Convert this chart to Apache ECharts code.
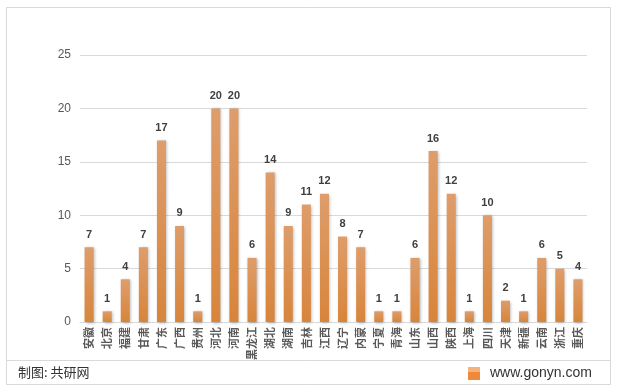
<!DOCTYPE html>
<html><head><meta charset="utf-8">
<script src="https://cdn.jsdelivr.net/npm/echarts@6/dist/echarts.min.js"></script>
<style>html,body{margin:0;padding:0;background:#fff}#c{width:618px;height:391px}</style>
</head><body><div id="c"></div>
<script>
const categories = ['安徽','北京','福建','甘肃','广东','广西','贵州','河北','河南','黑龙江','湖北','湖南','吉林','江西','辽宁','内蒙','宁夏','青海','山东','山西','陕西','上海','四川','天津','新疆','云南','浙江','重庆'];
const values = [7,1,4,7,17,9,1,20,20,6,14,9,11,12,8,7,1,1,6,16,12,1,10,2,1,6,5,4];
const yTicks = [0,5,10,15,20,25];

const chart = echarts.init(document.getElementById('c'), null, {renderer:'canvas'});
const font = '"Noto Sans CJK SC", "Microsoft YaHei", sans-serif';
chart.setOption({
  animation:false,
  textStyle:{fontFamily:font},
  grid:{left:80, right:31, top:55, bottom:69},
  xAxis:{type:'category', data:categories,
    axisLine:{lineStyle:{color:'#d9d9d9'}}, axisTick:{show:false},
    axisLabel:{rotate:90, interval:0, color:'#595959', fontSize:11, fontWeight:'bold', margin:5, fontFamily:font}},
  yAxis:{type:'value', min:yTicks[0], max:yTicks[yTicks.length-1], interval:5,
    axisLine:{show:false}, axisTick:{show:false},
    splitLine:{lineStyle:{color:'#d9d9d9'}},
    axisLabel:{color:'#595959', fontSize:12, margin:9, fontFamily:'"Liberation Sans", Arial, sans-serif'}},
  series:[{type:'bar', data:values, barWidth:'50%',
    itemStyle:{color:new echarts.graphic.LinearGradient(0,0,0,1,[{offset:0,color:'#de9d6b'},{offset:1,color:'#d8853b'}]),
      shadowBlur:3, shadowColor:'rgba(0,0,0,0.3)', shadowOffsetX:1, shadowOffsetY:1},
    label:{show:true, position:'top', distance:7, color:'#404040', fontSize:11, fontWeight:'bold', fontFamily:'"Liberation Sans", Arial, sans-serif'}}],
  graphic:[
    {type:'rect', shape:{x:6.5,y:7.5,width:604,height:377}, style:{fill:'none', stroke:'#d9d9d9', lineWidth:1}, silent:true},
    {type:'line', shape:{x1:6.5,y1:360.5,x2:610.5,y2:360.5}, style:{stroke:'#d9d9d9', lineWidth:1}},
    {type:'text', left:18, top:366, style:{text:'制图: 共研网', fill:'#333', font:'13px '+font}},
    {type:'rect', shape:{x:468,y:367,width:12,height:13}, style:{fill:'#f08a3a'}},
    {type:'rect', shape:{x:468,y:367,width:12,height:5}, style:{fill:'#f6b27a'}},
    {type:'text', left:490, top:366, style:{text:'www.gonyn.com', fill:'#333', font:'14px "Liberation Sans", Arial, sans-serif'}}
  ]
});
</script></body></html>
